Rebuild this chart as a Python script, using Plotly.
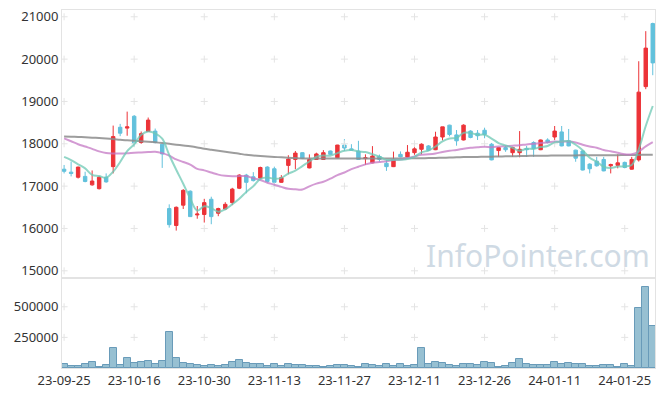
import plotly.graph_objects as go
from plotly.subplots import make_subplots
import pandas as pd

dates = [
    "23-09-25", "23-09-26", "23-09-27",
    "23-10-04", "23-10-05", "23-10-06", "23-10-10", "23-10-11", "23-10-12", "23-10-13",
    "23-10-16", "23-10-17", "23-10-18", "23-10-19", "23-10-20",
    "23-10-23", "23-10-24", "23-10-25", "23-10-26", "23-10-27",
    "23-10-30", "23-10-31", "23-11-01", "23-11-02", "23-11-03",
    "23-11-06", "23-11-07", "23-11-08", "23-11-09", "23-11-10",
    "23-11-13", "23-11-14", "23-11-15", "23-11-16", "23-11-17",
    "23-11-20", "23-11-21", "23-11-22", "23-11-23", "23-11-24",
    "23-11-27", "23-11-28", "23-11-29", "23-11-30", "23-12-01",
    "23-12-04", "23-12-05", "23-12-06", "23-12-07", "23-12-08",
    "23-12-11", "23-12-12", "23-12-13", "23-12-14", "23-12-15",
    "23-12-18", "23-12-19", "23-12-20", "23-12-21", "23-12-22",
    "23-12-26", "23-12-27", "23-12-28",
    "24-01-02", "24-01-03", "24-01-04", "24-01-05",
    "24-01-08", "24-01-09", "24-01-10", "24-01-11", "24-01-12",
    "24-01-15", "24-01-16", "24-01-17", "24-01-18", "24-01-19",
    "24-01-22", "24-01-23", "24-01-24", "24-01-25", "24-01-26",
    "24-01-29", "24-01-30", "24-01-31",
]

open_ = [17400, 17330, 17210, 17230, 17030, 16940, 17210, 17460, 18390, 18370,
         18650, 18030, 18290, 18300, 17990, 16470, 16070, 16550, 16880, 16320,
         16330, 16690, 16360, 16460, 16610, 16950, 17260, 17220, 17190, 17450,
         17410, 17090, 17490, 17630, 17790, 17430, 17630, 17630, 17830, 17670,
         17970, 17880, 17830, 17650, 17550, 17700, 17540, 17460, 17750, 17690,
         17790, 17870, 17950, 17860, 18160, 18440, 18210, 18090, 18300, 18250,
         18320, 17990, 17840, 17910, 17790, 17790, 17890, 18030, 17860, 18090,
         18160, 18280, 18070, 17850, 17830, 17520, 17590, 17630, 17480, 17490,
         17560, 17400, 17620, 19350, 20840]
high = [17500, 17580, 17460, 17340, 17370, 17240, 17300, 18430, 18470, 18760,
        18680, 18290, 18620, 18360, 18000, 16570, 16520, 16930, 16900, 16530,
        16700, 16750, 16490, 16620, 16960, 17280, 17290, 17330, 17460, 17470,
        17460, 17260, 17730, 17830, 17800, 17750, 17790, 17850, 17840, 17975,
        18110, 17990, 18070, 17750, 17945, 17745, 17615, 17815, 17820, 17970,
        17990, 18010, 17970, 18285, 18400, 18450, 18325, 18460, 18320, 18325,
        18380, 18020, 17920, 17960, 17930, 18300, 17950, 18060, 18100, 18130,
        18420, 18420, 18350, 17860, 17840, 17540, 17690, 17690, 17530, 17750,
        17580, 17690, 19950, 20660, 20860]
low = [17300, 17230, 17180, 17090, 17010, 16920, 17080, 17300, 18180, 18190,
       17930, 18000, 18280, 18010, 17430, 16020, 15950, 16460, 16270, 16230,
       16140, 16100, 16290, 16440, 16550, 16930, 16830, 17110, 17170, 17080,
       16990, 17080, 17280, 17400, 17640, 17420, 17620, 17620, 17740, 17660,
       17830, 17840, 17630, 17500, 17540, 17575, 17360, 17450, 17680, 17680,
       17740, 17750, 17830, 17850, 18080, 18175, 17955, 18080, 18130, 18090,
       18130, 17610, 17690, 17810, 17690, 17680, 17690, 17690, 17850, 18010,
       18090, 17940, 17940, 17575, 17370, 17300, 17460, 17350, 17300, 17420,
       17420, 17390, 17580, 19290, 19620]
close = [17350, 17300, 17450, 17110, 17120, 17210, 17100, 18170, 18250, 18400,
         18010, 18240, 18560, 18030, 17760, 16090, 16500, 16900, 16280, 16340,
         16610, 16280, 16470, 16570, 16930, 17260, 17090, 17130, 17440, 17110,
         17090, 17200, 17640, 17780, 17660, 17630, 17760, 17790, 17750, 17970,
         17900, 17850, 17630, 17670, 17710, 17630, 17460, 17630, 17690, 17800,
         17880, 17990, 17850, 18160, 18400, 18220, 18070, 18440, 18150, 18190,
         18220, 17620, 17910, 17860, 17910, 17870, 17860, 17890, 18090, 18030,
         18300, 17950, 17950, 17660, 17380, 17410, 17480, 17360, 17510, 17550,
         17440, 17630, 19220, 20260, 19910]
volume = [33000, 19000, 19000, 33000, 53000, 11000, 25000, 167000, 28000, 83000,
          44000, 53000, 61000, 36000, 61000, 292000, 78000, 44000, 36000, 28000,
          19000, 28000, 19000, 28000, 53000, 67000, 44000, 36000, 36000, 19000,
          36000, 19000, 33000, 28000, 28000, 19000, 19000, 11000, 19000, 28000,
          28000, 19000, 11000, 36000, 28000, 19000, 36000, 19000, 36000, 19000,
          28000, 167000, 36000, 53000, 44000, 28000, 19000, 36000, 36000, 28000,
          53000, 44000, 11000, 19000, 44000, 75000, 36000, 28000, 28000, 28000,
          53000, 36000, 44000, 36000, 36000, 19000, 19000, 28000, 28000, 11000,
          36000, 19000, 492000, 661000, 347000]

# moving averages: leading values (window starts before the visible period)
ma5_head = [17690, 17615, 17515, 17420]
ma20_head = [18128, 18060, 17990, 17935, 17880, 17820, 17780, 17770, 17770, 17775,
             17790, 17797, 17805, 17812, 17780, 17720, 17630, 17570, 17510]
ma60 = [18175, 18168, 18162, 18155, 18145, 18135, 18125, 18112, 18095, 18082,
        18070, 18060, 18048, 18034, 18018, 18000, 17980, 17960, 17940, 17915,
        17885, 17860, 17835, 17812, 17790, 17765, 17740, 17725, 17712, 17700,
        17690, 17680, 17670, 17662, 17655, 17652, 17650, 17650, 17650, 17650,
        17650, 17650, 17650, 17650, 17650, 17652, 17652, 17654, 17655, 17656,
        17658, 17660, 17662, 17665, 17670, 17675, 17680, 17685, 17688, 17690,
        17693, 17696, 17700, 17703, 17706, 17710, 17713, 17716, 17718, 17720,
        17722, 17724, 17725, 17726, 17727, 17728, 17729, 17730, 17731, 17732,
        17734, 17736, 17738, 17740, 17742]

price_ticks = [15000, 16000, 17000, 18000, 19000, 20000, 21000]
vol_ticks = [250000, 500000]
tick_dates = dates[::10]

cs = pd.Series(close, dtype=float)
ma5 = cs.rolling(5).mean().tolist()
ma5[:4] = ma5_head
ma20 = cs.rolling(20).mean().tolist()
ma20[:19] = ma20_head

RED = "#ec3338"
BLUE = "#62c1dc"

fig = make_subplots(rows=2, cols=1, shared_xaxes=True, vertical_spacing=0,
                    row_heights=[268, 90])

fig.add_trace(go.Candlestick(
    x=dates, open=open_, high=high, low=low, close=close,
    increasing=dict(line=dict(color=RED, width=1), fillcolor=RED),
    decreasing=dict(line=dict(color=BLUE, width=1), fillcolor=BLUE),
    whiskerwidth=0, hoverinfo="skip"), row=1, col=1)

fig.add_trace(go.Bar(x=dates, y=volume, hoverinfo="skip",
                     marker=dict(color="rgba(140,185,205,0.9)",
                                 line=dict(color="rgba(105,155,185,1)", width=1))),
              row=2, col=1)

# grid crosses
gx, gy = [], []
for d in tick_dates:
    for v in price_ticks:
        gx.append(d); gy.append(v)
fig.add_trace(go.Scatter(x=gx, y=gy, mode="markers", hoverinfo="skip",
                         marker=dict(symbol="cross-thin", size=5,
                                     line=dict(color="#e4e4e4", width=1))),
              row=1, col=1)
gx2, gy2 = [], []
for d in tick_dates:
    for v in vol_ticks:
        gx2.append(d); gy2.append(v)
fig.add_trace(go.Scatter(x=gx2, y=gy2, mode="markers", hoverinfo="skip",
                         marker=dict(symbol="cross-thin", size=5,
                                     line=dict(color="#e4e4e4", width=1))),
              row=2, col=1)

fig.add_trace(go.Scatter(x=dates, y=ma60, mode="lines", hoverinfo="skip",
                         line=dict(color="rgba(140,140,140,0.85)", width=2, shape="spline")),
              row=1, col=1)
fig.add_trace(go.Scatter(x=dates, y=ma20, mode="lines", hoverinfo="skip",
                         line=dict(color="rgba(196,120,196,0.75)", width=2, shape="spline")),
              row=1, col=1)
fig.add_trace(go.Scatter(x=dates, y=ma5, mode="lines", hoverinfo="skip",
                         line=dict(color="rgba(110,200,180,0.75)", width=2, shape="spline")),
              row=1, col=1)

axis_line = "#e3e3e3"
font_fam = "Noto Sans, sans-serif"
fig.update_layout(
    width=657, height=388,
    margin=dict(l=54, r=10, t=2, b=28, autoexpand=False),
    paper_bgcolor="white", plot_bgcolor="white",
    showlegend=False, bargap=0, hovermode=False,
    font=dict(family=font_fam, size=13, color="#333"),
    annotations=[dict(text="InfoPointer.com", xref="paper", yref="paper",
                      x=0.803, y=0.313, xanchor="center", yanchor="middle",
                      showarrow=False,
                      font=dict(size=30, color="#cfdae4", family=font_fam))],
)
xr = [-0.3, 84.32]
fig.update_xaxes(type="category", categoryorder="array", categoryarray=dates,
                 range=xr, showgrid=False, zeroline=False, automargin=False,
                 showline=True, mirror=True, linecolor=axis_line, linewidth=1,
                 tickmode="array", tickvals=tick_dates, ticktext=tick_dates,
                 tickangle=0, ticks="", rangeslider=dict(visible=False),
                 tickfont=dict(size=13, color="#333"))
fig.update_xaxes(showticklabels=False, row=1, col=1)
fig.update_yaxes(range=[14830, 21160], tickvals=price_ticks, automargin=False,
                 ticktext=[str(v) for v in price_ticks], showgrid=False,
                 ticklabeloverflow="allow",
                 zeroline=False, showline=True, mirror=True, linecolor=axis_line,
                 ticks="", tickfont=dict(size=13, color="#333"), row=1, col=1)
fig.update_yaxes(range=[0, 735000], tickvals=vol_ticks, automargin=False,
                 ticktext=[str(v) for v in vol_ticks], showgrid=False,
                 ticklabeloverflow="allow",
                 zeroline=False, showline=True, mirror=True, linecolor=axis_line,
                 ticks="", tickfont=dict(size=13, color="#333"), row=2, col=1)

fig.write_html("out.html")
